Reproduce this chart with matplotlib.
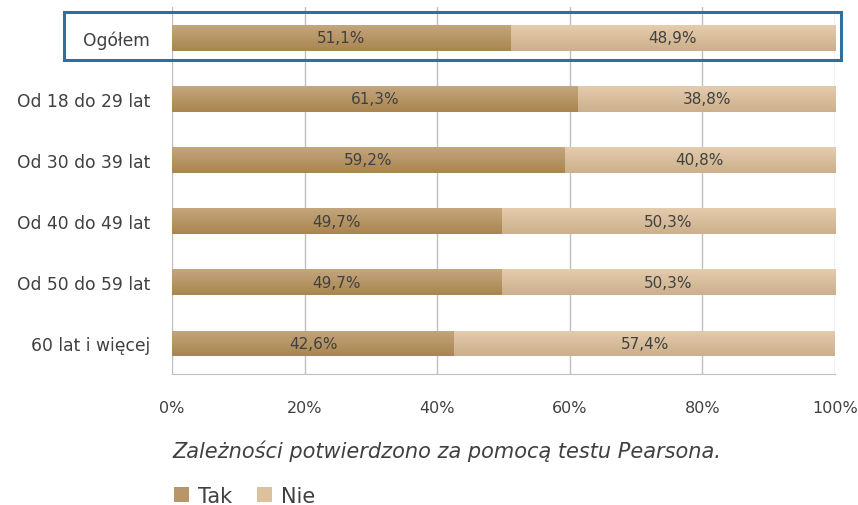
import matplotlib.pyplot as plt
import numpy as np
from matplotlib.patches import Rectangle, Patch

plt.rcParams["font.family"] = ["DejaVu Sans"]

categories = ["Ogółem", "Od 18 do 29 lat", "Od 30 do 39 lat",
              "Od 40 do 49 lat", "Od 50 do 59 lat", "60 lat i więcej"]
tak = [51.1, 61.3, 59.2, 49.7, 49.7, 42.6]
nie = [48.9, 38.8, 40.8, 50.3, 50.3, 57.4]
tak_labels = ["51,1%", "61,3%", "59,2%", "49,7%", "49,7%", "42,6%"]
nie_labels = ["48,9%", "38,8%", "40,8%", "50,3%", "50,3%", "57,4%"]
xticks = [0, 20, 40, 60, 80, 100]
xtick_labels = ["0%", "20%", "40%", "60%", "80%", "100%"]

TEXT = "#404040"
TAK_TOP, TAK_BOT = "#c4a67d", "#a9854f"
NIE_TOP, NIE_BOT = "#e4ccad", "#ccaf8c"


def gradient_fill(ax, bars, top, bottom):
    c1 = np.array(plt.matplotlib.colors.to_rgb(top))
    c2 = np.array(plt.matplotlib.colors.to_rgb(bottom))
    t = np.linspace(0, 1, 64)[:, None]
    img = (c1 * (1 - t) + c2 * t)[:, None, :]
    for bar in bars:
        x, y = bar.get_x(), bar.get_y()
        w, h = bar.get_width(), bar.get_height()
        # y axis is inverted, so image row 0 sits at the top edge
        im = ax.imshow(img, extent=(x, x + w, y + h, y), aspect="auto",
                       zorder=bar.get_zorder(), interpolation="bilinear")
        im.set_clip_path(bar)


fig = plt.figure(figsize=(8.58, 5.06), dpi=100)
ax = fig.add_axes([0.2005, 0.259, 0.7727, 0.725])

y = np.arange(len(categories))
h = 0.42
bars_tak = ax.barh(y, tak, height=h, color=TAK_TOP, zorder=3)
bars_nie = ax.barh(y, nie, left=tak, height=h, color=NIE_TOP, zorder=3)
gradient_fill(ax, bars_tak, TAK_TOP, TAK_BOT)
gradient_fill(ax, bars_nie, NIE_TOP, NIE_BOT)

for i in range(len(categories)):
    ax.text(tak[i] / 2, y[i], tak_labels[i], ha="center", va="center",
            fontsize=11, color=TEXT, zorder=5)
    ax.text(tak[i] + nie[i] / 2, y[i], nie_labels[i], ha="center",
            va="center", fontsize=11, color=TEXT, zorder=5)

ax.set_xlim(0, 100)
ax.set_ylim(len(categories) - 0.5, -0.5)
ax.set_yticks(y)
ax.set_yticklabels(categories, fontsize=12.3, color=TEXT)
ax.set_xticks(xticks)
ax.set_xticklabels(xtick_labels, fontsize=11.5, color=TEXT)
ax.tick_params(axis="both", length=0)
ax.tick_params(axis="x", pad=19)
ax.tick_params(axis="y", pad=16)
ax.grid(True, axis="x", color="#bfbfbf", linewidth=1.0, zorder=0)
for side in ("top", "right", "left"):
    ax.spines[side].set_visible(False)
ax.spines["bottom"].set_color("#bfbfbf")

# highlight box around the "Ogółem" row
fig.patches.append(Rectangle((64 / 858, 1 - 61 / 506), 777 / 858, 48 / 506,
                             transform=fig.transFigure, fill=False,
                             edgecolor="#2e6f9e", linewidth=2.2))

fig.text(172 / 858, 1 - 451 / 506,
         "Zależności potwierdzono za pomocą testu Pearsona.",
         fontsize=15, style="italic", color=TEXT, va="center")

handles = [Patch(facecolor="#b8966a", label="Tak"),
           Patch(facecolor="#dcc19f", label="Nie")]
fig.legend(handles=handles, loc="center left",
           bbox_to_anchor=(174 / 858, 1 - 497 / 506), ncol=2, frameon=False,
           fontsize=15, handlelength=0.7, handleheight=0.7,
           handletextpad=0.45, columnspacing=1.2, labelcolor=TEXT,
           borderaxespad=0, borderpad=0)

fig.savefig("out.png", dpi=100)
